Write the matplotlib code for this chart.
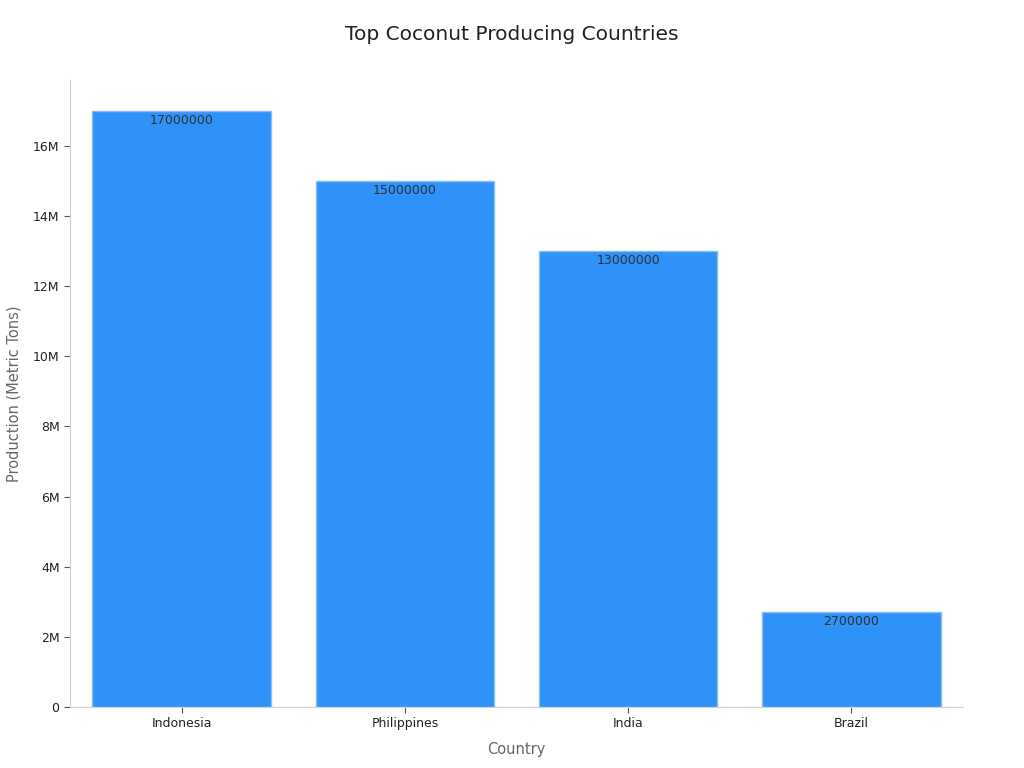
import matplotlib
matplotlib.use("Agg")
import matplotlib.pyplot as plt
from matplotlib.ticker import FuncFormatter

countries = ["Indonesia", "Philippines", "India", "Brazil"]
production = [17000000, 15000000, 13000000, 2700000]

fig = plt.figure(figsize=(10.24, 7.68), dpi=100)
ax = fig.add_axes([0.0684, 0.0794, 0.872, 0.8164])

bars = ax.bar(countries, production, width=0.8, color="#2f92f8",
              edgecolor="#86bdf5", linewidth=1)

for b, v in zip(bars, production):
    ax.annotate(str(v), xy=(b.get_x() + b.get_width() / 2, v),
                xytext=(0, -2), textcoords="offset points",
                ha="center", va="top", fontsize=9, color="#333333")

ax.set_xlim(-0.5, 3.5)
ax.set_ylim(0, 17.88e6)
ax.set_yticks([0, 2e6, 4e6, 6e6, 8e6, 10e6, 12e6, 14e6, 16e6])
ax.yaxis.set_major_formatter(FuncFormatter(lambda v, p: "0" if v == 0 else f"{int(v / 1e6)}M"))

for s in ["top", "right"]:
    ax.spines[s].set_visible(False)
for s in ["left", "bottom"]:
    ax.spines[s].set_color("#d0d0d0")
ax.tick_params(axis="both", labelsize=9, colors="#222222", length=4)
ax.tick_params(axis="both", color="#555555")

ax.set_xlabel("Country", fontsize=10.5, color="#666666", labelpad=8)
ax.set_ylabel("Production (Metric Tons)", fontsize=10.5, color="#666666", labelpad=8)
fig.suptitle("Top Coconut Producing Countries", fontsize=14.5, color="#222222", y=0.968)

fig.savefig("out.png", dpi=100)
